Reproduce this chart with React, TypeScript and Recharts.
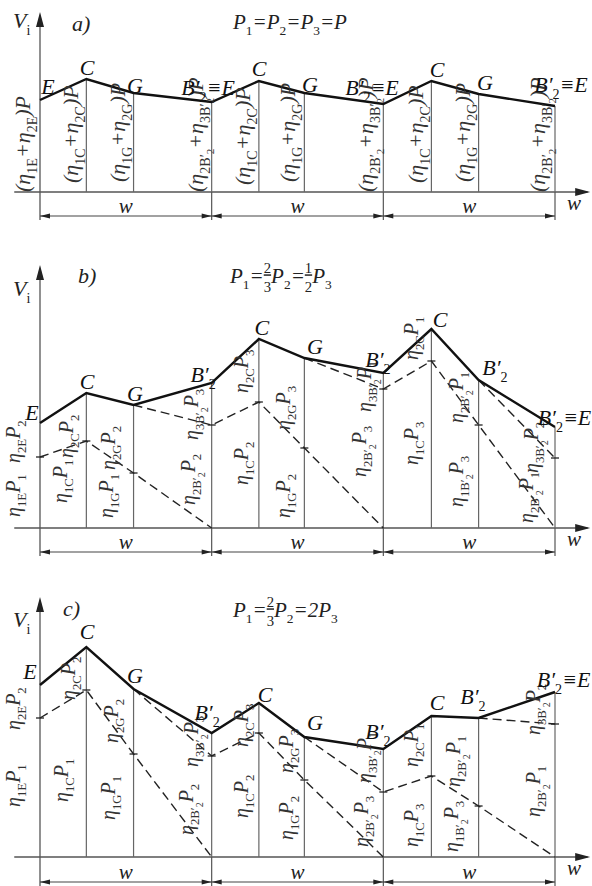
import React from "react";
import { ComposedChart, Line, XAxis, YAxis, ReferenceLine, ReferenceDot } from "recharts";

type Pt = [number, number];
type Lab = { x: number; y: number; t: string };

// x runs in spans (w = 1); y is the ordinate V_i
// ---- a) P1 = P2 = P3 = P
const aSolid: Pt[] = [[0, 92], [0.27, 113], [0.545, 99], [1, 90], [1.275, 111], [1.54, 99], [2, 88], [2.28, 111], [2.555, 98], [3, 86]];
const aDashes: Pt[][] = [];
const aRot: Lab[] = [
  { x: -0.058, y: 0, t: "(η_{1E}+η_{2E})P" },
  { x: 0.221, y: 9, t: "(η_{1C}+η_{2C})P" },
  { x: 0.495, y: 10, t: "(η_{1G}+η_{2G})P" },
  { x: 0.95, y: 0, t: "(η_{2B′^2}+η_{3B′^2})P" },
  { x: 1.223, y: 7, t: "(η_{1C}+η_{2C})P" },
  { x: 1.485, y: 10, t: "(η_{1G}+η_{2G})P" },
  { x: 1.94, y: 0, t: "(η_{2B′^2}+η_{3B′^2})P" },
  { x: 2.231, y: 9, t: "(η_{1C}+η_{2C})P" },
  { x: 2.505, y: 10, t: "(η_{1G}+η_{2G})P" },
  { x: 2.942, y: 0, t: "(η_{2B′^2}+η_{3B′^2})P" },
];
const aLetters: Lab[] = [
  { x: 0.047, y: 98, t: "E" }, { x: 0.274, y: 117, t: "C" }, { x: 0.553, y: 99, t: "G" }, { x: 0.979, y: 97, t: "B′_2≡E" },
  { x: 1.276, y: 116, t: "C" }, { x: 1.573, y: 100, t: "G" }, { x: 1.934, y: 97, t: "B′_2≡E" },
  { x: 2.313, y: 115, t: "C" }, { x: 2.592, y: 102, t: "G" }, { x: 3.035, y: 100, t: "B′_2≡E" },
];

// ---- b) P1 = 2/3 P2 = 1/2 P3
const bSolid: Pt[] = [[0, 105], [0.27, 135], [0.545, 123], [1, 145], [1.275, 189], [1.54, 170], [2, 155], [2.28, 199], [2.555, 148], [3, 101]];
const bDashes: Pt[][] = [
  [[0, 71], [0.27, 87], [0.545, 55], [1, 0]],
  [[0.545, 123], [1, 103], [1.275, 126], [1.54, 80], [2, 0]],
  [[1.54, 170], [2, 139], [2.28, 167], [2.555, 103], [3, 0]],
  [[2.555, 148], [3, 70]],
];
const bRot: Lab[] = [
  { x: -0.117, y: 11, t: "η_{1E}P_1" }, { x: -0.117, y: 65, t: "η_{2E}P_2" },
  { x: 0.16, y: 25, t: "η_{1C}P_1" }, { x: 0.19, y: 70, t: "η_{2C}P_2" },
  { x: 0.425, y: 10, t: "η_{1G}P_1" }, { x: 0.437, y: 58, t: "η_{2G}P_2" },
  { x: 0.903, y: 23, t: "η_{2B′^2}P_2" }, { x: 0.92, y: 88, t: "η_{3B′^2}P_3" },
  { x: 1.212, y: 43, t: "η_{1C}P_2" }, { x: 1.212, y: 135, t: "η_{2C}P_3" },
  { x: 1.456, y: 10, t: "η_{1G}P_2" }, { x: 1.456, y: 98, t: "η_{2G}P_3" },
  { x: 1.899, y: 51, t: "η_{2B′^2}P_3" }, { x: 1.928, y: 116, t: "η_{3B′^2}P_1" },
  { x: 2.202, y: 63, t: "η_{1C}P_3" }, { x: 2.202, y: 168, t: "η_{2C}P_1" },
  { x: 2.464, y: 21, t: "η_{1B′^2}P_3" }, { x: 2.464, y: 105, t: "η_{2B′^2}P_1" },
  { x: 2.872, y: 5, t: "η_{2B′^2}P_1" }, { x: 2.901, y: 55, t: "η_{3B′^2}P_2" },
];
const bLetters: Lab[] = [
  { x: -0.047, y: 108, t: "E" }, { x: 0.274, y: 139, t: "C" }, { x: 0.553, y: 127, t: "G" }, { x: 0.95, y: 146, t: "B′_2" },
  { x: 1.293, y: 193, t: "C" }, { x: 1.602, y: 174, t: "G" }, { x: 1.969, y: 161, t: "B′_2" },
  { x: 2.33, y: 201, t: "C" }, { x: 2.65, y: 153, t: "B′_2" }, { x: 3.055, y: 103, t: "B′_2≡E" },
];

// ---- c) P1 = 2/3 P2 = 2 P3
const cSolid: Pt[] = [[0, 172], [0.27, 210], [0.545, 168], [1, 124], [1.275, 154], [1.54, 120], [2, 108], [2.28, 141], [2.555, 139], [3, 165]];
const cDashes: Pt[][] = [
  [[0, 139], [0.27, 167], [0.545, 103], [1, 0]],
  [[0.545, 168], [1, 101], [1.275, 124], [1.54, 77], [2, 0]],
  [[1.54, 120], [2, 65], [2.28, 81], [2.555, 51], [3, 0]],
  [[2.555, 139], [3, 133]],
];
const cRot: Lab[] = [
  { x: -0.117, y: 50, t: "η_{1E}P_1" }, { x: -0.117, y: 127, t: "η_{2E}P_2" },
  { x: 0.163, y: 55, t: "η_{1C}P_1" }, { x: 0.204, y: 157, t: "η_{2C}P_2" },
  { x: 0.437, y: 37, t: "η_{1G}P_1" }, { x: 0.454, y: 114, t: "η_{2G}P_2" },
  { x: 0.891, y: 22, t: "η_{2B′^2}P_2" }, { x: 0.92, y: 90, t: "η_{3B′^2}P_3" },
  { x: 1.212, y: 39, t: "η_{1C}P_2" }, { x: 1.212, y: 110, t: "η_{2C}P_3" },
  { x: 1.474, y: 17, t: "η_{1G}P_2" }, { x: 1.474, y: 84, t: "η_{2G}P_3" },
  { x: 1.911, y: 10, t: "η_{2B′^2}P_3" }, { x: 1.928, y: 74, t: "η_{3B′^2}P_1" },
  { x: 2.202, y: 10, t: "η_{1C}P_3" }, { x: 2.202, y: 90, t: "η_{2C}P_1" },
  { x: 2.435, y: 5, t: "η_{1B′^2}P_3" }, { x: 2.447, y: 70, t: "η_{2B′^2}P_1" },
  { x: 2.913, y: 40, t: "η_{2B′^2}P_1" }, { x: 2.913, y: 122, t: "η_{3B′^2}P_2" },
];
const cLetters: Lab[] = [
  { x: -0.058, y: 178, t: "E" }, { x: 0.274, y: 218, t: "C" }, { x: 0.553, y: 174, t: "G" }, { x: 0.973, y: 137, t: "B′_2" },
  { x: 1.311, y: 155, t: "C" }, { x: 1.602, y: 127, t: "G" }, { x: 1.969, y: 118, t: "B′_2" },
  { x: 2.313, y: 147, t: "C" }, { x: 2.522, y: 153, t: "B′_2" }, { x: 3.05, y: 170, t: "B′_2≡E" },
];

const SPANS = [0, 1, 2];
const FONT = "'Liberation Serif', 'Times New Roman', 'DejaVu Serif', serif";

type Seg = { t: string; lvl: number; frac?: "num" | "den" };

// tiny markup: _x or _{..} subscript, ^ inside braces = second level, \ab = fraction a/b
function parse(s: string): Seg[] {
  const out: Seg[] = [];
  let buf = "";
  let i = 0;
  const flush = () => {
    if (buf) out.push({ t: buf, lvl: 0 });
    buf = "";
  };
  while (i < s.length) {
    const c = s[i];
    if (c === "_") {
      flush();
      let sub: string;
      if (s[i + 1] === "{") {
        const j = s.indexOf("}", i);
        sub = s.slice(i + 2, j);
        i = j + 1;
      } else {
        sub = s[i + 1];
        i += 2;
      }
      const k = sub.indexOf("^");
      if (k >= 0) {
        out.push({ t: sub.slice(0, k), lvl: 1 });
        out.push({ t: sub.slice(k + 1), lvl: 2 });
      } else out.push({ t: sub, lvl: 1 });
    } else if (c === "\\") {
      flush();
      out.push({ t: s[i + 1], lvl: 0, frac: "num" });
      out.push({ t: s[i + 2], lvl: 0, frac: "den" });
      i += 3;
    } else {
      buf += c;
      i++;
    }
  }
  flush();
  return out;
}

function Rich({ x, y, s, fs, rotate, anchor, fill }: any) {
  const size = [1, 0.64, 0.5];
  const off = [0, 0.3, 0.5];
  let prev = 0;
  const kids = parse(s).map((g, i) => {
    let o = off[g.lvl] * fs;
    let f = size[g.lvl] * fs;
    let dx = 0;
    if (g.frac === "num") { o = -0.46 * fs; f = 0.7 * fs; }
    if (g.frac === "den") { o = 0.44 * fs; f = 0.7 * fs; dx = -0.35 * fs; }
    const dy = o - prev;
    prev = o;
    return (
      <tspan key={i} dy={dy} dx={dx || undefined} fontSize={f}
        fontStyle={g.lvl === 0 && !g.frac ? "italic" : "normal"}
        textDecoration={g.frac === "num" ? "underline" : undefined}>
        {g.t}
      </tspan>
    );
  });
  return (
    <text x={x} y={y} fontFamily={FONT} fontSize={fs} fill={fill || "#222"} textAnchor={anchor || "start"}
      transform={rotate ? `rotate(-90 ${x} ${y})` : undefined}>
      {kids}
    </text>
  );
}

const txt = (s: string, fs: number, opts: any = {}) => (p: any) => (
  <Rich x={p.cx} y={p.cy} s={s} fs={fs} {...opts} />
);

function Panel({ top, height, mTop, mBottom, yMax, dim, solid, dashes, rot, rotSize, letters, title, tag }: any) {
  const ext = dim - 4;
  const onSolid = (x: number, y: number) => solid.some((q: Pt) => q[0] === x && q[1] === y);
  const tickDot = (p: any) => {
    const { cx, cy, payload, index } = p;
    if (payload.y <= 0 || onSolid(payload.x, payload.y)) return <g key={index} />;
    return <line key={index} x1={cx - 4} x2={cx + 4} y1={cy} y2={cy} stroke="#222" strokeWidth={1.3} />;
  };
  const arrow = (dir: string, len: number, half: number) => (p: any) => {
    const { cx, cy } = p;
    let pts = "";
    if (dir === "up") pts = `${cx},${cy} ${cx - half},${cy + len} ${cx + half},${cy + len}`;
    if (dir === "right") pts = `${cx},${cy} ${cx - len},${cy - half} ${cx - len},${cy + half}`;
    if (dir === "left") pts = `${cx},${cy} ${cx + len},${cy - half} ${cx + len},${cy + half}`;
    return <polygon points={pts} fill="#222" />;
  };
  return (
    <div style={{ position: "absolute", left: 0, top }}>
      <ComposedChart width={592} height={height} margin={{ top: mTop, bottom: mBottom, left: 40, right: 37 }}>
        <XAxis type="number" dataKey="x" domain={[0, 3]} hide />
        <YAxis type="number" dataKey="y" domain={[0, yMax]} hide />
        {/* axes */}
        <ReferenceLine ifOverflow="visible" stroke="#555" strokeWidth={1.3}
          segment={[{ x: -0.15, y: 0 }, { x: 3.19, y: 0 }]} />
        <ReferenceLine ifOverflow="visible" stroke="#555" strokeWidth={1.3}
          segment={[{ x: 0, y: ext }, { x: 0, y: yMax - 4 }]} />
        <ReferenceDot ifOverflow="visible" x={0} y={yMax} r={1} shape={arrow("up", 15, 4)} />
        <ReferenceDot ifOverflow="visible" x={3.205} y={0} r={1} shape={arrow("right", 15, 4)} />
        {/* ordinates */}
        {solid.slice(1).map((q: Pt, i: number) => (
          <ReferenceLine key={"v" + i} ifOverflow="visible" stroke="#666" strokeWidth={1.2}
            segment={[{ x: q[0], y: 0 }, { x: q[0], y: q[1] }]} />
        ))}
        {/* span dimension */}
        {[1, 2, 3].map((k) => (
          <ReferenceLine key={"e" + k} ifOverflow="visible" stroke="#555" strokeWidth={1.2}
            segment={[{ x: k, y: ext }, { x: k, y: 0 }]} />
        ))}
        <ReferenceLine ifOverflow="visible" stroke="#444" strokeWidth={1.1}
          segment={[{ x: 0, y: dim }, { x: 3, y: dim }]} />
        {SPANS.map((k) => (
          <ReferenceDot key={"al" + k} ifOverflow="visible" x={k} y={dim} r={1} shape={arrow("left", 10, 2.5)} />
        ))}
        {SPANS.map((k) => (
          <ReferenceDot key={"ar" + k} ifOverflow="visible" x={k + 1} y={dim} r={1} shape={arrow("right", 10, 2.5)} />
        ))}
        {SPANS.map((k) => (
          <ReferenceDot key={"w" + k} ifOverflow="visible" x={k + 0.5} y={dim + 3} r={1}
            shape={txt("w", 21, { anchor: "middle" })} />
        ))}
        <ReferenceDot ifOverflow="visible" x={3.11} y={-18} r={1} shape={txt("w", 21, { anchor: "middle" })} />
        {/* influence lines */}
        {dashes.map((d: Pt[], i: number) => (
          <Line key={"d" + i} data={d.map(([x, y]) => ({ x, y }))} dataKey="y" type="linear" stroke="#222"
            strokeWidth={1.4} strokeDasharray="9 5" dot={tickDot} activeDot={false} isAnimationActive={false} />
        ))}
        <Line data={solid.map(([x, y]: Pt) => ({ x, y }))} dataKey="y" type="linear" stroke="#111"
          strokeWidth={2.4} dot={false} activeDot={false} isAnimationActive={false} />
        {/* texts */}
        {rot.map((l: Lab, i: number) => (
          <ReferenceDot key={"r" + i} ifOverflow="visible" x={l.x} y={l.y} r={1}
            shape={txt(l.t, rotSize, { rotate: true, fill: "#333" })} />
        ))}
        {letters.map((l: Lab, i: number) => (
          <ReferenceDot key={"l" + i} ifOverflow="visible" x={l.x} y={l.y} r={1}
            shape={txt(l.t, 22, { anchor: "middle", fill: "#111" })} />
        ))}
        <ReferenceDot ifOverflow="visible" x={title.x} y={title.y} r={1} shape={txt(title.t, 21)} />
        <ReferenceDot ifOverflow="visible" x={tag.x} y={tag.y} r={1} shape={txt(tag.t, 22)} />
        <ReferenceDot ifOverflow="visible" x={-0.157} y={tag.v} r={1} shape={txt("V_i", 22)} />
      </ComposedChart>
    </div>
  );
}

export default function App() {
  return (
    <div style={{ position: "absolute", left: 0, top: 0, width: 592, height: 886, background: "#fff", overflow: "hidden" }}>
      <Panel top={0} height={240} mTop={12} mBottom={48} yMax={180} dim={-24}
        solid={aSolid} dashes={aDashes} rot={aRot} rotSize={22} letters={aLetters}
        title={{ x: 1.124, y: 163, t: "P_1=P_2=P_3=P" }} tag={{ x: 0.186, y: 161, t: "a)", v: 164 }} />
      <Panel top={240} height={330} mTop={25} mBottom={42} yMax={263} dim={-24}
        solid={bSolid} dashes={bDashes} rot={bRot} rotSize={20} letters={bLetters}
        title={{ x: 1.107, y: 245, t: "P_1=\\23P_2=\\12P_3" }} tag={{ x: 0.221, y: 245, t: "b)", v: 232 }} />
      <Panel top={570} height={316} mTop={27} mBottom={29} yMax={260} dim={-25}
        solid={cSolid} dashes={cDashes} rot={cRot} rotSize={20} letters={cLetters}
        title={{ x: 1.124, y: 240, t: "P_1=\\23P_2=2P_3" }} tag={{ x: 0.134, y: 241, t: "c)", v: 230 }} />
    </div>
  );
}
